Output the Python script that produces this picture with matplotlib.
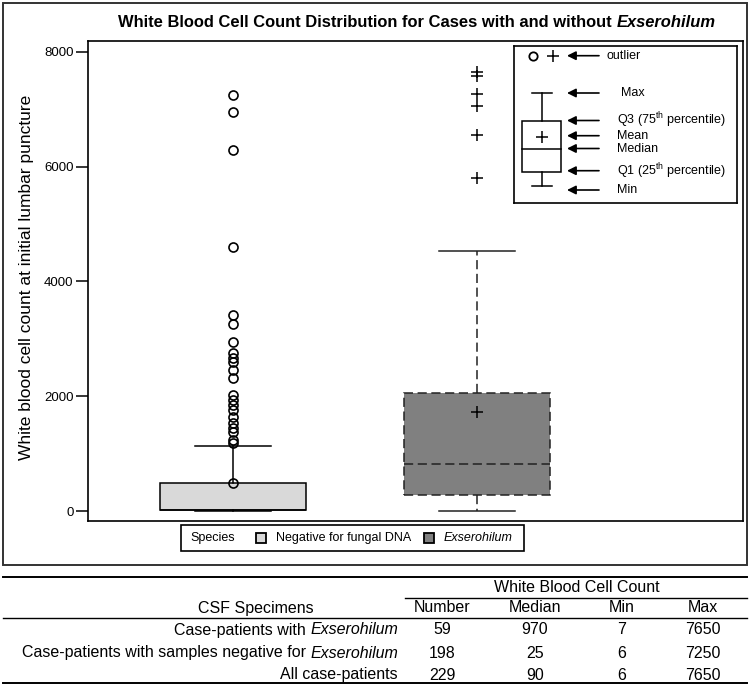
import matplotlib
matplotlib.use("Agg")
import matplotlib.pyplot as plt
from matplotlib.patches import Rectangle

plt.rcParams['font.family'] = ['Liberation Sans', 'DejaVu Sans']
plt.rcParams['mathtext.fontset'] = 'custom'
plt.rcParams['mathtext.rm'] = 'Liberation Sans'
plt.rcParams['mathtext.it'] = 'Liberation Sans:italic'

# box summaries
groups = ["Negative for fungal DNA", "Exserohilum"]
box_colors = ["#d9d9d9", "#808080"]
neg_stats = dict(whislo=6, q1=10, med=25, q3=490, whishi=1140)
neg_outliers = [483, 1180, 1237, 1372, 1441, 1528, 1643, 1760, 1847, 1934, 2022,
                2323, 2457, 2602, 2661, 2748, 2950, 3254, 3416, 4606, 6291, 6948, 7250]
exs_stats = dict(whislo=7, q1=280, med=815, q3=2050, whishi=4525, mean=1720)
exs_outliers = [5810, 6550, 7060, 7270, 7580, 7650]
yticks = [0, 2000, 4000, 6000, 8000]

# summary table
table_cols = ["Number", "Median", "Min", "Max"]
row_plain = ["Case-patients with ", "Case-patients with samples negative for ", "All case-patients"]
row_italic = ["Exserohilum", "Exserohilum", ""]
table_number = [59, 198, 229]
table_median = [970, 25, 90]
table_min = [7, 6, 6]
table_max = [7650, 7250, 7650]

W, H = 750, 685
fig = plt.figure(figsize=(7.5, 6.85), dpi=100)

# background axes in pixel units (border, title, legend, table)
bg = fig.add_axes([0, 0, 1, 1], zorder=0)
bg.set_xlim(0, W)
bg.set_ylim(H, 0)
bg.axis('off')

bg.add_patch(Rectangle((3, 3), 744, 562, fill=False, edgecolor='#333333', lw=1.4))

# main plot
ax = fig.add_axes([88 / W, 1 - 521 / H, 655 / W, 480 / H], zorder=1)
ax.bxp([dict(neg_stats, fliers=neg_outliers, label="")], positions=[1], widths=0.6,
       capwidths=0.31, patch_artist=True, showmeans=False,
       boxprops=dict(facecolor=box_colors[0], edgecolor='black', linewidth=1.1),
       whiskerprops=dict(color='black', linewidth=1.1),
       capprops=dict(color='black', linewidth=1.1),
       medianprops=dict(color='black', linewidth=1.1),
       flierprops=dict(marker='o', markerfacecolor='none', markeredgecolor='black',
                       markersize=6.5, markeredgewidth=1.2))
dash = (0, (6, 3))
ax.bxp([dict(exs_stats, fliers=exs_outliers, label="")], positions=[2], widths=0.6,
       capwidths=0.31, patch_artist=True, showmeans=True,
       boxprops=dict(facecolor=box_colors[1], edgecolor='#222222', linewidth=1.1, linestyle=dash),
       whiskerprops=dict(color='#222222', linewidth=1.1, linestyle=dash),
       capprops=dict(color='#222222', linewidth=1.1),
       medianprops=dict(color='#222222', linewidth=1.1, linestyle=dash),
       meanprops=dict(marker='+', markeredgecolor='black', markersize=8, markeredgewidth=1.1),
       flierprops=dict(marker='+', markeredgecolor='black', markersize=8, markeredgewidth=1.1))
ax.set_xlim(0.406, 3.09)
ax.set_ylim(-174, 8190)
ax.set_xticks([])
ax.set_yticks(yticks)
ax.tick_params(axis='y', direction='out', length=8.5, width=1.1, labelsize=9.5, pad=2)
for s in ax.spines.values():
    s.set_linewidth(1.2)
ax.set_ylabel("White blood cell count at initial lumbar puncture", fontsize=12.5)
ax.yaxis.set_label_coords(-0.082, 0.508)

# title with italic genus name
t1 = bg.text(118, 22, "White Blood Cell Count Distribution for Cases with and without ",
             fontsize=11.9, fontweight='bold', ha='left', va='center')
bg.annotate("Exserohilum", xy=(1, 0), xycoords=t1, fontsize=11.9, fontweight='bold',
            style='italic', ha='left', va='bottom')

# legend key schematic
key = fig.add_axes([514 / W, 1 - 203 / H, 223 / W, 157 / H], zorder=3)
key.set_xlim(514, 737)
key.set_ylim(203, 46)
key.set_xticks([])
key.set_yticks([])
for s in key.spines.values():
    s.set_linewidth(1.2)
key.plot([532.7], [55.7], marker='o', mfc='none', mec='black', ms=6, mew=1.3)
key.plot([552.7], [55.7], marker='+', mec='black', ms=8, mew=1.1)
key.plot([541.7, 541.7], [92.7, 121], color='black', lw=1.1)
key.plot([541.7, 541.7], [172.3, 186], color='black', lw=1.1)
key.plot([531.7, 551.7], [92.7, 92.7], color='black', lw=1.1)
key.plot([531.7, 551.7], [186, 186], color='black', lw=1.1)
key.add_patch(Rectangle((522, 121), 39, 51.3, fill=False, edgecolor='black', lw=1.1))
key.plot([522, 561], [149.3, 149.3], color='black', lw=1.1)
key.plot([541.7], [136.7], marker='+', mec='black', ms=8, mew=1.1)
key_labels = [("outlier", 55.7, 606.7), ("Max", 93, 621),
              ("Q3 (75$^{\\mathrm{th}}$ percentile)", 120.5, 617), ("Mean", 135.7, 617),
              ("Median", 148.5, 617), ("Q1 (25$^{\\mathrm{th}}$ percentile)", 170.7, 617),
              ("Min", 190, 617)]
for lab, yy, xx in key_labels:
    key.annotate("", xy=(567, yy), xytext=(599, yy),
                 arrowprops=dict(arrowstyle='-|>', color='black', lw=1.2,
                                 mutation_scale=13, shrinkA=0, shrinkB=0))
    key.text(xx, yy, lab, fontsize=9.0, ha='left', va='center')

# bottom legend
bg.add_patch(Rectangle((181, 525), 343, 26, fill=False, edgecolor='black', lw=1.2))
bg.text(190, 538, "Species", fontsize=9, ha='left', va='center')
bg.add_patch(Rectangle((256, 533), 10, 10, facecolor=box_colors[0], edgecolor='black', lw=1.3))
bg.text(276, 538, groups[0], fontsize=9, ha='left', va='center')
bg.add_patch(Rectangle((424, 533), 10, 10, facecolor=box_colors[1], edgecolor='black', lw=1.3))
bg.text(444, 538, groups[1], fontsize=9, style='italic', ha='left', va='center')

# table
bg.plot([3, 747], [577, 577], color='black', lw=1.4)
bg.plot([405, 747], [598, 598], color='black', lw=1.0)
bg.plot([3, 747], [618, 618], color='black', lw=1.0)
bg.plot([3, 747], [683, 683], color='black', lw=1.4)
tfs = 11.5
bg.text(577, 588, "White Blood Cell Count", fontsize=tfs, ha='center', va='center')
bg.text(256, 608, "CSF Specimens", fontsize=tfs, ha='center', va='center')
col_x = [442, 535, 622, 703]
for cx, name in zip(col_x, table_cols):
    bg.text(cx, 608, name, fontsize=tfs, ha='center', va='center')
row_y = [630, 653, 675]
for i, ry in enumerate(row_y):
    if row_italic[i]:
        ti = bg.text(398, ry, row_italic[i], fontsize=tfs, style='italic', ha='right', va='center')
        bg.annotate(row_plain[i], xy=(0, 0), xycoords=ti, fontsize=tfs, ha='right', va='bottom')
    else:
        bg.text(398, ry, row_plain[i], fontsize=tfs, ha='right', va='center')
    vals = [table_number[i], table_median[i], table_min[i], table_max[i]]
    for cx, v in zip(col_x, vals):
        bg.text(cx, ry, str(v), fontsize=tfs, ha='center', va='center')

fig.savefig("out.png", dpi=100)
